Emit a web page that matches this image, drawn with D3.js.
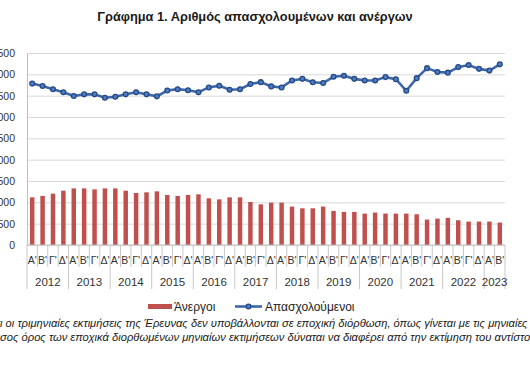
<!DOCTYPE html>
<html>
<head>
<meta charset="utf-8">
<script src="https://cdn.jsdelivr.net/npm/d3@7"></script>
<style>
  body { margin: 0; background: #fff; }
  svg { display: block; font-family: "Liberation Sans", Arial, sans-serif; }
</style>
</head>
<body>
<svg id="stage" width="530" height="371"></svg>
<script>
// Quarterly data, thousands of persons
const years = ["2012", "2013", "2014", "2015", "2016", "2017", "2018", "2019", "2020", "2021", "2022", "2023"];
const quarterLabels = ["Α'", "Β'", "Γ'", "Δ'"];
const unemployed = [1117, 1150, 1203, 1273, 1327, 1327, 1304, 1327, 1327, 1273,
  1220, 1234, 1257, 1173, 1150, 1173, 1187, 1094, 1070, 1117,
  1117, 1009, 953, 993, 993, 900, 860, 860, 900, 799,
  776, 776, 736, 759, 736, 736, 736, 720, 596, 619,
  636, 580, 549, 549, 549, 526];
const employed = [3783, 3725, 3652, 3580, 3493, 3531, 3531, 3452, 3476, 3531,
  3580, 3531, 3484, 3621, 3652, 3628, 3580, 3693, 3734, 3638,
  3652, 3773, 3817, 3717, 3693, 3855, 3894, 3814, 3797, 3942,
  3966, 3894, 3855, 3855, 3935, 3886, 3614, 3911, 4145, 4056,
  4040, 4169, 4217, 4128, 4087, 4234];
const yTicks = [0, 500, 1000, 1500, 2000, 2500, 3000, 3500, 4000, 4500];

const title = "Γράφημα 1. Αριθμός απασχολουμένων και ανέργων";
const noteLines = [
  { cut: "Σημείωση: Επισημαίνεται ότ", text: "ι οι τριμηνιαίες εκτιμήσεις της Έρευνας δεν υποβάλλονται σε εποχική διόρθωση, όπως γίνεται με τις μηνιαίες εκτιμήσεις." },
  { cut: "Επομένως ο μέ", text: "σος όρος των εποχικά διορθωμένων μηνιαίων εκτιμήσεων δύναται να διαφέρει από την εκτίμηση του αντίστοιχου τριμήνου." },
];

// one entry per quarter, 2012 Q1 .. 2023 Q2
const periods = years.flatMap((yr) => quarterLabels.map((q) => ({ id: yr + q, yr, q })))
  .slice(0, unemployed.length);

const svg = d3.select("#stage");
const plot = { left: 27, right: 505, top: 53, bottom: 245 };

const x = d3.scaleBand()
  .domain(periods.map((d) => d.id))
  .range([plot.left, plot.right])
  .paddingInner(0.57)
  .paddingOuter(0.285);
const step = x.step();
const y = d3.scaleLinear().domain([0, 4500]).range([plot.bottom, plot.top]);

const grFormat = d3.formatLocale({ decimal: ",", thousands: ".", grouping: [3], currency: ["", "€"] }).format(",d");

// title
svg.append("text")
  .attr("x", 255).attr("y", 21)
  .attr("text-anchor", "middle")
  .attr("font-weight", "bold")
  .attr("font-size", 12.8)
  .attr("fill", "#1a1a1a")
  .text(title);

// gridlines
svg.append("g")
  .attr("transform", `translate(${plot.left},0)`)
  .call(d3.axisLeft(y).tickValues(yTicks).tickSize(-(plot.right - plot.left)).tickFormat(""))
  .call((g) => g.select(".domain").remove())
  .call((g) => g.selectAll("line").attr("stroke", "#d9d9d9"));

// y axis labels (the reference crop cuts them at the left edge)
svg.append("g")
  .attr("transform", `translate(${plot.left},0)`)
  .call(d3.axisLeft(y).tickValues(yTicks).tickSize(0).tickPadding(12).tickFormat(grFormat))
  .call((g) => g.select(".domain").attr("stroke", "#bfbfbf"))
  .call((g) => g.selectAll("text").attr("font-size", 10.5).attr("fill", "#333").attr("font-family", null));

// bars
svg.append("g")
  .selectAll("rect")
  .data(unemployed)
  .join("rect")
  .attr("x", (d, i) => x(periods[i].id))
  .attr("y", (d) => y(d))
  .attr("width", x.bandwidth())
  .attr("height", (d) => plot.bottom - y(d))
  .attr("fill", "#c0504d");

// employed line
const cx = (i) => x(periods[i].id) + x.bandwidth() / 2;
const line = d3.line().x((d, i) => cx(i)).y((d) => y(d));
svg.append("path")
  .datum(employed)
  .attr("d", line)
  .attr("fill", "none")
  .attr("stroke", "#3e66a8")
  .attr("stroke-width", 2.6);
svg.append("g")
  .selectAll("circle")
  .data(employed)
  .join("circle")
  .attr("cx", (d, i) => cx(i))
  .attr("cy", (d) => y(d))
  .attr("r", 2.4)
  .attr("fill", "#4f7cc0")
  .attr("stroke", "#244a86")
  .attr("stroke-width", 1.3);

// x axis: quarter labels + ticks, year labels + separators
const xAxis = svg.append("g");
xAxis.append("line")
  .attr("x1", plot.left).attr("x2", plot.right)
  .attr("y1", plot.bottom).attr("y2", plot.bottom)
  .attr("stroke", "#bfbfbf");
xAxis.selectAll(".qtick")
  .data(periods)
  .join("line")
  .attr("x1", (d) => x(d.id) - (step - x.bandwidth()) / 2)
  .attr("x2", (d) => x(d.id) - (step - x.bandwidth()) / 2)
  .attr("y1", plot.bottom)
  .attr("y2", (d, i) => (i % 4 === 0 ? 289 : 267))
  .attr("stroke", "#c8c8c8");
xAxis.append("line")
  .attr("x1", plot.right).attr("x2", plot.right)
  .attr("y1", plot.bottom).attr("y2", 289)
  .attr("stroke", "#c8c8c8");
xAxis.selectAll(".qlabel")
  .data(periods)
  .join("text")
  .attr("x", (d) => x(d.id) + x.bandwidth() / 2)
  .attr("y", 264)
  .attr("text-anchor", "middle")
  .attr("font-size", 10.5)
  .attr("fill", "#333")
  .text((d) => d.q);

const yearGroups = d3.groups(periods, (d) => d.yr);
xAxis.selectAll(".ylabel")
  .data(yearGroups)
  .join("text")
  .attr("x", ([, ps]) => (x(ps[0].id) + x(ps[ps.length - 1].id) + x.bandwidth()) / 2)
  .attr("y", 286)
  .attr("text-anchor", "middle")
  .attr("font-size", 11.5)
  .attr("fill", "#333")
  .text(([yr]) => yr);

// legend
const legend = svg.append("g");
legend.append("rect")
  .attr("x", 148).attr("y", 304).attr("width", 24).attr("height", 5)
  .attr("fill", "#c0504d");
legend.append("text")
  .attr("x", 174).attr("y", 311)
  .attr("font-size", 12).attr("fill", "#222")
  .text("Άνεργοι");
legend.append("line")
  .attr("x1", 235).attr("x2", 262).attr("y1", 306.5).attr("y2", 306.5)
  .attr("stroke", "#3e66a8").attr("stroke-width", 2.6);
legend.append("circle")
  .attr("cx", 248.5).attr("cy", 306.5).attr("r", 2.4)
  .attr("fill", "#4f7cc0").attr("stroke", "#244a86").attr("stroke-width", 1.3);
legend.append("text")
  .attr("x", 265).attr("y", 311)
  .attr("font-size", 12).attr("fill", "#222")
  .text("Απασχολούμενοι");

// footnote (runs off both edges, as in the reference crop)
noteLines.forEach((n, i) => {
  const t = svg.append("text")
    .attr("y", 327 + i * 13.5)
    .attr("font-size", 11.2)
    .attr("font-style", "italic")
    .attr("fill", "#1a1a1a")
    .text(n.cut);
  const cutWidth = t.node().getComputedTextLength();
  t.text(n.cut + n.text).attr("x", -cutWidth);
});
</script>
</body>
</html>
